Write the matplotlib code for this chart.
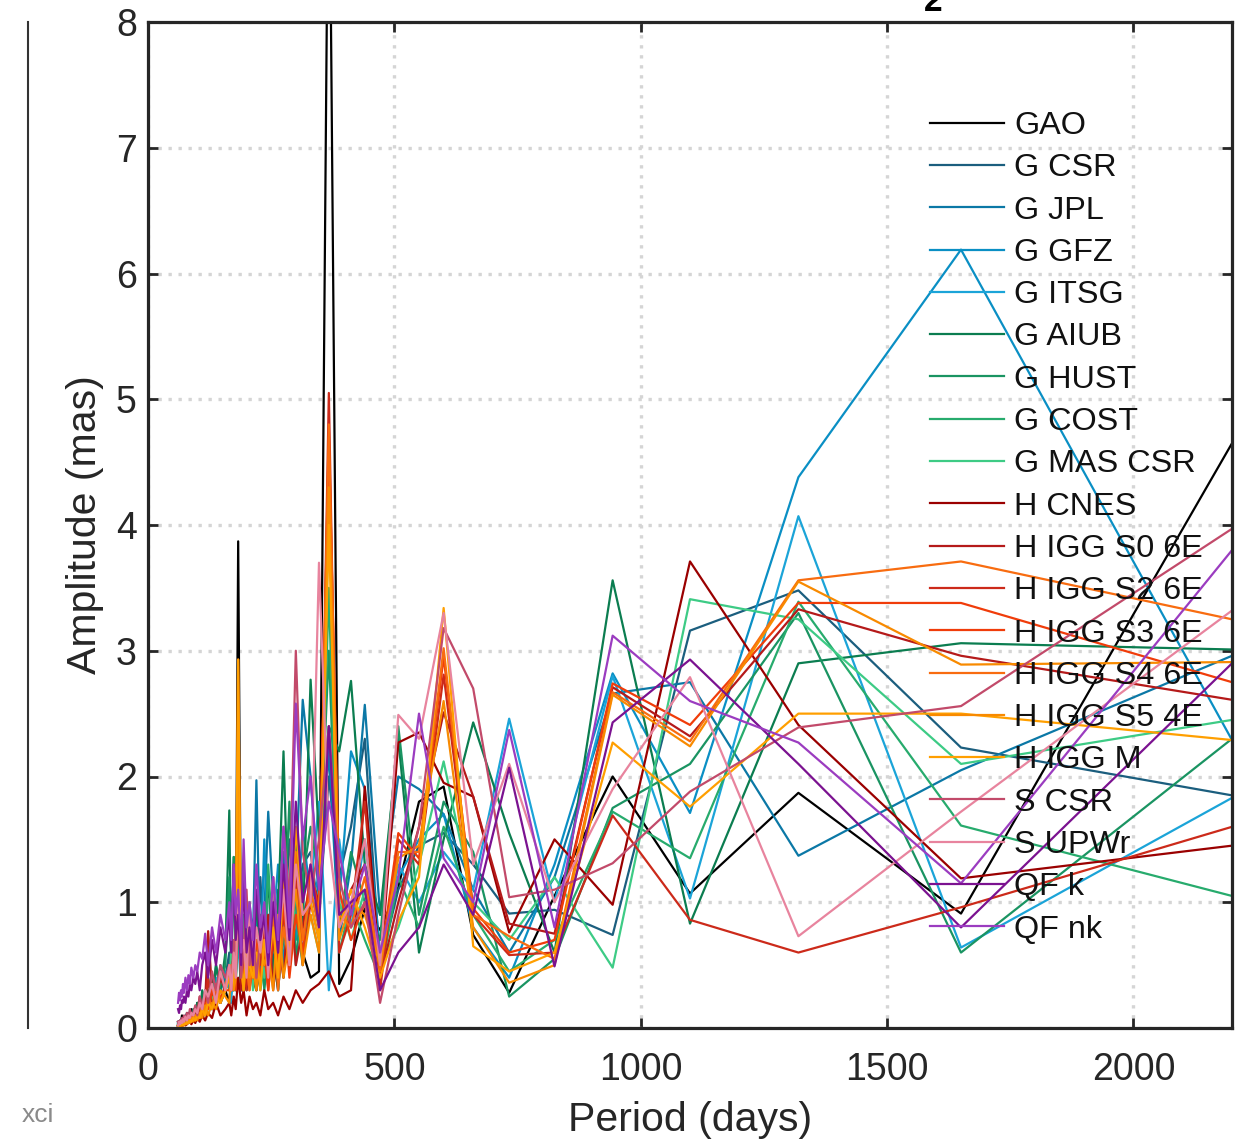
import matplotlib
matplotlib.use("Agg")
import matplotlib.pyplot as plt

plt.rcParams['font.family'] = ['Liberation Sans', 'DejaVu Sans']

# Period axis (days)
periods = [2200, 1650, 1320, 1100, 943, 825, 733, 660, 600, 550, 508, 471, 440, 412, 388, 367, 347, 330,
           314, 300, 287, 275, 264, 254, 244, 236, 228, 220, 213, 206, 200, 194, 189, 183, 178, 174, 169, 165,
           157, 147, 138, 130, 122, 116, 110, 105, 100, 96, 92, 88, 85, 82, 79, 76, 73, 71, 69, 67, 65, 63, 61]

names = ["GAO", "G CSR", "G JPL", "G GFZ", "G ITSG", "G AIUB", "G HUST", "G COST", "G MAS CSR",
         "H CNES", "H IGG S0 6E", "H IGG S2 6E", "H IGG S3 6E", "H IGG S4 6E", "H IGG S5 4E",
         "H IGG M", "S CSR", "S UPWr", "QF k", "QF nk"]

colors = ["#000000", "#1b5e7e", "#0b78a6", "#0a8fc4", "#1ba4d8", "#0b7d50", "#1a9462", "#27ab6d", "#3dcb85",
          "#9a0000", "#b51a1a", "#cc2a1a", "#f03c0a", "#f86c10", "#f88a00", "#ff9f00",
          "#c24a6a", "#e8849e", "#7b1290", "#9b3cc0"]

gao = [4.65, 0.91, 1.87, 1.07, 2.00, 1.05, 0.28, 0.74, 1.92, 1.80, 1.12, 0.78, 0.95, 0.55, 0.35, 10.0, 0.45, 0.40,
       0.6, 1.0, 0.5, 0.8, 0.3, 0.6, 0.4, 0.7, 0.5, 0.3, 0.4, 0.6, 0.3, 0.5, 0.4, 3.87, 0.5, 0.3, 0.4, 0.2,
       0.3, 0.2, 0.35, 0.15, 0.25, 0.2, 0.15, 0.1, 0.2, 0.12, 0.1, 0.15, 0.08, 0.1, 0.12, 0.05, 0.08, 0.06, 0.1, 0.05, 0.06, 0.04, 0.05]
g_csr = [1.85, 2.23, 3.48, 3.16, 0.74, 0.94, 0.91, 1.30, 1.55, 1.45, 1.10, 0.50, 2.30, 1.60, 1.20, 2.00, 0.90, 1.40,
         1.3, 0.9, 1.5, 0.7, 1.1, 0.5, 0.9, 0.6, 1.2, 0.4, 0.8, 0.5, 0.7, 0.3, 0.6, 0.9, 0.4, 0.5, 0.3, 0.6,
         0.4, 0.3, 0.5, 0.2, 0.3, 0.25, 0.15, 0.2, 0.1, 0.15, 0.12, 0.1, 0.08, 0.12, 0.06, 0.1, 0.05, 0.08, 0.04, 0.06, 0.05, 0.03, 0.04]
g_jpl = [2.96, 2.05, 1.37, 2.75, 2.66, 1.20, 0.60, 1.10, 1.70, 1.90, 2.00, 0.90, 2.57, 1.30, 0.70, 2.20, 1.00, 2.00,
         2.61, 1.2, 0.8, 1.4, 0.6, 1.0, 1.72, 0.9, 0.5, 1.97, 0.7, 1.0, 0.5, 0.8, 0.4, 1.1, 0.6, 0.3, 0.5, 0.4,
         0.3, 0.5, 0.2, 0.35, 0.15, 0.3, 0.2, 0.1, 0.15, 0.1, 0.08, 0.12, 0.06, 0.1, 0.05, 0.08, 0.04, 0.06, 0.05, 0.03, 0.04, 0.02, 0.03]
g_gfz = [2.29, 6.19, 4.38, 1.71, 2.82, 1.30, 0.40, 0.80, 1.70, 1.50, 1.20, 0.60, 1.90, 2.20, 1.00, 2.30, 1.20, 1.00,
         1.6, 0.7, 1.0, 0.5, 1.3, 0.8, 0.6, 1.5, 0.4, 0.9, 0.5, 0.7, 0.4, 0.6, 0.9, 1.2, 0.3, 0.5, 0.4, 0.3,
         0.45, 0.3, 0.2, 0.3, 0.15, 0.25, 0.1, 0.2, 0.12, 0.08, 0.1, 0.06, 0.09, 0.05, 0.07, 0.04, 0.06, 0.03, 0.05, 0.04, 0.03, 0.05, 0.02]
g_itsg = [1.83, 0.64, 4.07, 1.03, 2.80, 1.00, 2.46, 1.10, 1.40, 1.00, 1.30, 0.50, 1.50, 0.80, 1.50, 0.30, 1.80, 1.10,
          0.9, 1.4, 0.6, 1.1, 0.4, 0.8, 0.5, 1.0, 0.7, 0.3, 0.6, 0.4, 0.9, 0.5, 0.3, 0.7, 0.4, 0.6, 0.2, 0.4,
          0.3, 0.2, 0.4, 0.15, 0.25, 0.1, 0.2, 0.08, 0.15, 0.1, 0.06, 0.1, 0.05, 0.08, 0.04, 0.06, 0.05, 0.03, 0.04, 0.02, 0.03, 0.02, 0.01]
g_aiub = [3.01, 3.06, 2.90, 0.83, 3.56, 0.60, 1.55, 2.43, 1.50, 0.60, 2.30, 0.90, 1.30, 2.76, 2.20, 2.40, 1.50, 2.77,
          0.8, 1.5, 0.6, 2.2, 0.9, 0.4, 1.2, 0.7, 0.5, 1.0, 0.6, 0.9, 0.4, 0.7, 0.3, 1.2, 0.8, 1.36, 0.5, 1.73,
          0.6, 0.3, 0.5, 0.2, 0.4, 0.15, 0.3, 0.1, 0.2, 0.12, 0.15, 0.08, 0.1, 0.06, 0.09, 0.05, 0.07, 0.04, 0.05, 0.03, 0.04, 0.02, 0.03]
g_hust = [2.30, 0.60, 3.30, 2.10, 1.75, 0.55, 0.25, 1.40, 1.80, 0.90, 2.40, 0.70, 1.00, 1.40, 0.80, 3.00, 1.20, 1.60,
          1.2, 0.5, 1.8, 0.7, 0.4, 1.1, 0.6, 0.3, 0.9, 0.5, 0.8, 0.4, 1.0, 0.6, 0.3, 0.9, 0.5, 1.36, 0.4, 1.2,
          0.5, 0.35, 0.2, 0.4, 0.15, 0.25, 0.1, 0.18, 0.08, 0.12, 0.1, 0.07, 0.09, 0.05, 0.06, 0.04, 0.05, 0.03, 0.04, 0.02, 0.03, 0.02, 0.01]
g_cost = [1.05, 1.61, 3.39, 1.35, 1.72, 0.70, 0.45, 0.90, 1.60, 0.80, 1.20, 0.40, 0.70, 1.00, 0.60, 3.50, 0.80, 1.10,
          0.5, 0.9, 1.1, 0.4, 0.8, 0.6, 1.3, 0.5, 0.3, 0.7, 0.4, 1.0, 0.6, 0.3, 0.8, 1.0, 0.4, 0.6, 0.3, 0.5,
          0.35, 0.2, 0.3, 0.15, 0.2, 0.1, 0.15, 0.08, 0.12, 0.06, 0.09, 0.05, 0.07, 0.04, 0.05, 0.03, 0.04, 0.02, 0.03, 0.02, 0.02, 0.01, 0.02]
g_mas = [2.45, 2.10, 3.25, 3.41, 0.48, 1.20, 0.70, 1.00, 2.12, 1.30, 0.80, 0.50, 1.10, 0.70, 1.00, 4.20, 0.60, 0.90,
         0.7, 1.1, 0.5, 0.9, 0.3, 1.2, 0.6, 0.4, 0.8, 0.5, 0.3, 0.7, 0.5, 0.9, 0.4, 1.1, 0.3, 0.5, 0.6, 0.4,
         0.3, 0.4, 0.2, 0.25, 0.15, 0.2, 0.1, 0.15, 0.08, 0.1, 0.06, 0.08, 0.05, 0.07, 0.04, 0.05, 0.03, 0.04, 0.02, 0.03, 0.02, 0.01, 0.02]
h_cnes = [1.45, 1.19, 2.41, 3.71, 0.98, 1.50, 0.76, 1.84, 1.95, 2.35, 2.27, 0.45, 1.92, 0.30, 0.25, 0.45, 0.35, 0.30,
          0.2, 0.3, 0.15, 0.25, 0.1, 0.2, 0.15, 0.3, 0.1, 0.2, 0.15, 0.25, 0.1, 0.3, 0.2, 0.4, 0.15, 0.25, 0.1, 0.2,
          0.15, 0.1, 0.2, 0.08, 0.12, 0.06, 0.1, 0.05, 0.08, 0.04, 0.06, 0.03, 0.05, 0.04, 0.03, 0.02, 0.04, 0.02, 0.03, 0.01, 0.02, 0.01, 0.02]
h_s0 = [2.61, 2.96, 3.33, 2.32, 2.71, 0.75, 0.83, 1.84, 2.51, 1.60, 1.00, 0.40, 1.30, 1.10, 0.80, 4.50, 1.00, 1.20,
        0.8, 0.5, 1.1, 0.4, 0.7, 0.3, 0.9, 0.5, 0.6, 0.3, 0.5, 0.8, 0.4, 0.6, 0.3, 1.2, 0.5, 0.4, 0.3, 0.5,
        0.3, 0.4, 0.2, 0.3, 0.77, 0.2, 0.15, 0.25, 0.1, 0.15, 0.08, 0.12, 0.06, 0.1, 0.05, 0.08, 0.04, 0.06, 0.03, 0.05, 0.02, 0.04, 0.02]
h_s2 = [1.60, 0.96, 0.60, 0.86, 1.69, 0.60, 0.58, 0.90, 2.81, 1.30, 1.50, 0.30, 1.80, 0.90, 0.60, 5.05, 0.70, 1.00,
        0.5, 1.2, 0.6, 0.9, 0.4, 0.7, 0.3, 0.8, 0.5, 0.6, 0.4, 0.7, 0.3, 0.5, 0.6, 1.3, 0.4, 0.5, 0.3, 0.4,
        0.35, 0.2, 0.3, 0.15, 0.4, 0.2, 0.12, 0.15, 0.1, 0.08, 0.1, 0.06, 0.08, 0.05, 0.06, 0.04, 0.05, 0.03, 0.04, 0.02, 0.03, 0.02, 0.01]
h_s3 = [2.75, 3.38, 3.38, 2.41, 2.74, 0.70, 0.60, 0.95, 2.95, 1.35, 1.55, 0.50, 1.00, 0.70, 1.10, 4.70, 0.90, 1.30,
        0.6, 0.9, 0.4, 1.0, 0.5, 0.8, 0.3, 0.6, 0.4, 0.7, 0.5, 0.3, 0.6, 0.4, 0.5, 1.4, 0.3, 0.6, 0.4, 0.3,
        0.3, 0.25, 0.2, 0.3, 0.15, 0.2, 0.1, 0.12, 0.08, 0.1, 0.07, 0.09, 0.05, 0.06, 0.04, 0.05, 0.03, 0.04, 0.02, 0.03, 0.02, 0.01, 0.02]
h_s4 = [3.25, 3.71, 3.56, 2.28, 2.67, 0.55, 0.73, 0.90, 3.02, 1.40, 1.40, 0.45, 1.20, 0.80, 0.90, 4.80, 0.80, 1.10,
        0.7, 1.4, 0.5, 0.8, 0.3, 0.9, 0.5, 0.6, 0.8, 0.4, 0.6, 0.3, 0.5, 0.7, 0.4, 2.93, 0.5, 0.4, 0.3, 0.5,
        0.3, 0.2, 0.35, 0.15, 0.25, 0.1, 0.2, 0.08, 0.12, 0.06, 0.1, 0.05, 0.08, 0.04, 0.06, 0.03, 0.05, 0.02, 0.04, 0.02, 0.03, 0.01, 0.02]
h_s5 = [2.91, 2.89, 3.55, 2.24, 2.65, 0.50, 0.36, 0.80, 2.60, 1.45, 1.35, 0.50, 0.90, 1.00, 0.70, 4.30, 0.60, 0.90,
        0.5, 1.1, 0.7, 0.4, 0.9, 0.3, 0.6, 0.5, 0.7, 0.3, 0.5, 0.4, 0.6, 0.3, 0.5, 1.8, 0.4, 0.3, 0.5, 0.2,
        0.25, 0.3, 0.15, 0.2, 0.1, 0.18, 0.08, 0.12, 0.06, 0.1, 0.05, 0.08, 0.04, 0.06, 0.03, 0.05, 0.02, 0.04, 0.02, 0.03, 0.01, 0.02, 0.01]
h_m = [2.29, 2.50, 2.50, 1.76, 2.27, 0.60, 0.45, 0.65, 3.34, 1.20, 0.85, 0.40, 0.80, 1.10, 0.80, 4.00, 0.70, 1.00,
       0.9, 1.6, 0.6, 1.2, 0.4, 0.8, 0.5, 0.7, 0.3, 0.6, 0.4, 0.5, 0.7, 0.3, 0.5, 2.93, 0.6, 0.4, 0.3, 0.4,
       0.3, 0.2, 0.25, 0.15, 0.2, 0.1, 0.15, 0.08, 0.1, 0.06, 0.08, 0.05, 0.06, 0.04, 0.05, 0.03, 0.04, 0.02, 0.03, 0.02, 0.02, 0.01, 0.02]
s_csr = [3.97, 2.56, 2.39, 1.88, 1.31, 1.10, 1.04, 2.70, 3.18, 1.60, 0.90, 0.20, 1.00, 0.80, 1.20, 2.40, 1.50, 1.00,
         1.4, 3.0, 1.0, 1.6, 0.6, 1.2, 0.5, 0.9, 0.7, 0.4, 0.8, 0.5, 1.1, 0.6, 0.4, 1.0, 0.5, 0.7, 0.3, 0.5,
         0.4, 0.5, 0.3, 0.45, 0.2, 0.3, 0.15, 0.25, 0.1, 0.18, 0.12, 0.1, 0.15, 0.08, 0.12, 0.06, 0.1, 0.05, 0.08, 0.04, 0.06, 0.03, 0.05]
s_upwr = [3.32, 1.72, 0.73, 2.79, 1.90, 1.00, 2.10, 1.30, 3.30, 2.30, 2.49, 0.50, 1.50, 1.00, 0.80, 1.50, 3.70, 1.00,
          0.9, 1.3, 0.5, 1.1, 0.7, 1.2, 0.4, 0.9, 0.6, 0.8, 0.5, 1.0, 0.4, 0.7, 0.6, 1.1, 0.4, 0.6, 0.3, 0.5,
          0.3, 0.45, 0.2, 0.35, 0.25, 0.3, 0.15, 0.2, 0.12, 0.15, 0.1, 0.12, 0.08, 0.1, 0.06, 0.09, 0.05, 0.07, 0.04, 0.06, 0.03, 0.05, 0.02]
qf_k = [2.90, 0.80, 2.10, 2.93, 2.43, 0.49, 2.07, 0.90, 1.30, 0.80, 0.60, 0.30, 1.10, 1.00, 0.90, 2.40, 0.80, 1.30,
        1.0, 1.8, 0.7, 1.3, 0.6, 1.0, 0.5, 0.9, 0.7, 1.1, 0.5, 0.8, 0.6, 1.2, 0.5, 0.9, 0.7, 1.3, 0.6, 0.9,
        0.6, 0.8, 0.5, 0.7, 0.4, 0.6, 0.5, 0.3, 0.45, 0.35, 0.4, 0.3, 0.35, 0.25, 0.3, 0.2, 0.25, 0.2, 0.22, 0.15, 0.18, 0.12, 0.15]
qf_nk = [3.80, 1.15, 2.27, 2.60, 3.12, 0.80, 2.37, 1.00, 1.35, 2.50, 1.20, 0.60, 1.30, 0.90, 1.40, 1.80, 1.10, 2.00,
         1.5, 2.58, 0.8, 1.6, 0.7, 1.2, 0.6, 1.0, 0.8, 1.3, 0.7, 1.0, 0.8, 1.5, 0.6, 1.1, 0.9, 1.3, 0.7, 1.0,
         0.7, 0.9, 0.6, 0.8, 0.5, 0.75, 0.55, 0.6, 0.45, 0.5, 0.4, 0.48, 0.35, 0.42, 0.3, 0.4, 0.28, 0.35, 0.25, 0.3, 0.22, 0.28, 0.2]

series = [gao, g_csr, g_jpl, g_gfz, g_itsg, g_aiub, g_hust, g_cost, g_mas,
          h_cnes, h_s0, h_s2, h_s3, h_s4, h_s5, h_m, s_csr, s_upwr, qf_k, qf_nk]

W, H = 1235, 1140
fig = plt.figure(figsize=(W / 100, H / 100), dpi=100)
ax = fig.add_axes([148 / W, 1 - 1028 / H, (1232 - 148) / W, (1028 - 22) / H])

for name, col, vals in zip(names, colors, series):
    ax.plot(periods, vals, color=col, lw=1.6, label=name)

ax.set_xlim(0, 2200)
ax.set_ylim(0, 8)
ax.set_xticks([0, 500, 1000, 1500, 2000])
ax.set_yticks(range(0, 9))
ax.grid(True, color='#d5d5d5', linestyle=(0, (1, 2)), linewidth=2.4)
ax.set_axisbelow(True)
ax.tick_params(direction='in', length=7, width=2, top=True, right=True,
               labelsize=27, colors='#262626')
ax.tick_params(axis='y', pad=8)
ax.tick_params(axis='x', pad=17)
for sp in ax.spines.values():
    sp.set_linewidth(2.3)
    sp.set_color('#262626')

ax.set_xlabel('Period (days)', fontsize=29.5, color='#262626')
ax.set_ylabel('Amplitude (mas)', fontsize=29.5, color='#262626')
ax.xaxis.set_label_coords((690 - 148) / 1084, -(1120 - 1028) / 1006)
ax.yaxis.set_label_coords((85 - 148) / 1084, 0.5)
ax.xaxis.label.set_va('center')
ax.yaxis.label.set_va('center')

leg = ax.legend(loc='upper left', bbox_to_anchor=(930 / W, 1 - 111 / H),
                bbox_transform=fig.transFigure, frameon=False, fontsize=23.3,
                handlelength=2.3, handletextpad=0.3, labelspacing=0.38,
                borderpad=0, borderaxespad=0)
for t in leg.get_texts():
    t.set_color('#111111')

# partial title character cut off at the top (as in the reference)
fig.text(933 / W, 1 - 11 / H, '2', fontsize=24, fontweight='bold', ha='center', va='baseline')
# neighbouring panel edge and small label
fig.add_artist(plt.Line2D([28 / W, 28 / W], [1 - 1028 / H, 1 - 22 / H], color='#333333', lw=1.5))
fig.text(38 / W, 1 - 1115 / H, 'xci', fontsize=19, color='#8a8a8a', ha='center', va='center')

fig.savefig('out.png', dpi=100)
